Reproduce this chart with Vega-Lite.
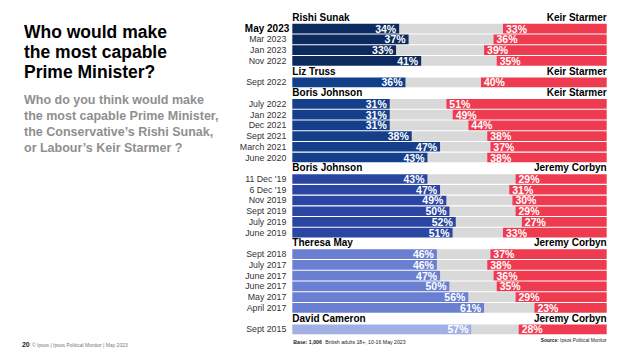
{
  "$schema": "https://vega.github.io/schema/vega-lite/v6.json",
  "width": 640,
  "height": 360,
  "autosize": "none",
  "padding": 0,
  "background": "white",
  "config": {"view": {"stroke": null}, "font": "Liberation Sans"},
  "title": {
    "text": ["Who would make", "the most capable", "Prime Minister?"],
    "subtitle": ["Who do you think would make", "the most capable Prime Minister,", "the Conservative’s Rishi Sunak,", "or Labour’s Keir Starmer ?"],
    "anchor": "start",
    "frame": "group",
    "orient": "top",
    "dx": 24,
    "dy": 154,
    "offset": 0,
    "font": "Liberation Sans",
    "fontSize": 17.5,
    "fontWeight": "bold",
    "color": "#000000",
    "lineHeight": 20,
    "subtitleFont": "Liberation Sans",
    "subtitleFontSize": 12.5,
    "subtitleFontWeight": "bold",
    "subtitleColor": "#8f8f8f",
    "subtitleLineHeight": 16,
    "subtitlePadding": 12
  },
  "datasets": {
    "rows": [
      {"row": 2, "label": "May 2023", "group": "Sunak v Starmer", "con": 34, "dk": 33, "lab": 33},
      {"row": 3, "label": "Mar 2023", "group": "Sunak v Starmer", "con": 37, "dk": 27, "lab": 36},
      {"row": 4, "label": "Jan 2023", "group": "Sunak v Starmer", "con": 33, "dk": 28, "lab": 39},
      {"row": 5, "label": "Nov 2022", "group": "Sunak v Starmer", "con": 41, "dk": 24, "lab": 35},
      {"row": 7, "label": "Sept 2022", "group": "Truss v Starmer", "con": 36, "dk": 24, "lab": 40},
      {"row": 9, "label": "July 2022", "group": "Johnson v Starmer", "con": 31, "dk": 18, "lab": 51},
      {"row": 10, "label": "Jan 2022", "group": "Johnson v Starmer", "con": 31, "dk": 20, "lab": 49},
      {"row": 11, "label": "Dec 2021", "group": "Johnson v Starmer", "con": 31, "dk": 25, "lab": 44},
      {"row": 12, "label": "Sept 2021", "group": "Johnson v Starmer", "con": 38, "dk": 24, "lab": 38},
      {"row": 13, "label": "March 2021", "group": "Johnson v Starmer", "con": 47, "dk": 16, "lab": 37},
      {"row": 14, "label": "June 2020", "group": "Johnson v Starmer", "con": 43, "dk": 19, "lab": 38},
      {"row": 16, "label": "11 Dec '19", "group": "Johnson v Corbyn", "con": 43, "dk": 28, "lab": 29},
      {"row": 17, "label": "6 Dec '19", "group": "Johnson v Corbyn", "con": 47, "dk": 22, "lab": 31},
      {"row": 18, "label": "Nov 2019", "group": "Johnson v Corbyn", "con": 49, "dk": 21, "lab": 30},
      {"row": 19, "label": "Sept 2019", "group": "Johnson v Corbyn", "con": 50, "dk": 21, "lab": 29},
      {"row": 20, "label": "July 2019", "group": "Johnson v Corbyn", "con": 52, "dk": 21, "lab": 27},
      {"row": 21, "label": "June 2019", "group": "Johnson v Corbyn", "con": 51, "dk": 16, "lab": 33},
      {"row": 23, "label": "Sept 2018", "group": "May v Corbyn", "con": 46, "dk": 17, "lab": 37},
      {"row": 24, "label": "July 2017", "group": "May v Corbyn", "con": 46, "dk": 16, "lab": 38},
      {"row": 25, "label": "June 2017", "group": "May v Corbyn", "con": 47, "dk": 17, "lab": 36},
      {"row": 26, "label": "June 2017", "group": "May v Corbyn", "con": 50, "dk": 15, "lab": 35},
      {"row": 27, "label": "May 2017", "group": "May v Corbyn", "con": 56, "dk": 15, "lab": 29},
      {"row": 28, "label": "April 2017", "group": "May v Corbyn", "con": 61, "dk": 16, "lab": 23},
      {"row": 30, "label": "Sept 2015", "group": "Cameron v Corbyn", "con": 57, "dk": 15, "lab": 28}
    ],
    "headers": [
      {"row": 1, "con_leader": "Rishi Sunak", "lab_leader": "Keir Starmer"},
      {"row": 6, "con_leader": "Liz Truss", "lab_leader": "Keir Starmer"},
      {"row": 8, "con_leader": "Boris Johnson", "lab_leader": "Keir Starmer"},
      {"row": 15, "con_leader": "Boris Johnson", "lab_leader": "Jeremy Corbyn"},
      {"row": 22, "con_leader": "Theresa May", "lab_leader": "Jeremy Corbyn"},
      {"row": 29, "con_leader": "David Cameron", "lab_leader": "Jeremy Corbyn"}
    ]
  },
  "encoding": {
    "y": {
      "field": "row",
      "type": "ordinal",
      "scale": {
        "domain": [1, 2, 3, 4, 5, 6, 7, 8, 9, 10, 11, 12, 13, 14, 15, 16, 17, 18, 19, 20, 21, 22, 23, 24, 25, 26, 27, 28, 29, 30, 31],
        "range": [13.1, 344.9],
        "paddingInner": 0.1,
        "paddingOuter": 0
      },
      "axis": null
    }
  },
  "layer": [
    {
      "data": {"name": "rows"},
      "transform": [
        {"fold": ["con", "dk", "lab"], "as": ["k", "v"]},
        {"stack": "v", "groupby": ["row"], "sort": [{"field": "k", "order": "ascending"}], "as": ["v0", "v1"]},
        {"calculate": "datum.v + '%'", "as": "pct"}
      ],
      "layer": [
        {
          "transform": [{"filter": "datum.k == 'dk'"}],
          "mark": {"type": "bar", "color": "#d9d9d9"},
          "encoding": {
            "x": {"field": "v0", "type": "quantitative", "scale": {"domain": [0, 100], "range": [292.3, 606.7], "nice": false, "zero": false}, "axis": null},
            "x2": {"field": "v1"}
          }
        },
        {
          "transform": [{"filter": "datum.k == 'lab'"}],
          "mark": {"type": "bar", "color": "#ef3b4f"},
          "encoding": {
            "x": {"field": "v0", "type": "quantitative", "axis": null},
            "x2": {"field": "v1"}
          }
        },
        {
          "transform": [{"filter": "datum.k == 'con'"}],
          "mark": {"type": "bar"},
          "encoding": {
            "x": {"field": "v0", "type": "quantitative", "axis": null},
            "x2": {"field": "v1"},
            "color": {
              "field": "group",
              "type": "nominal",
              "scale": {
                "domain": ["Sunak v Starmer", "Truss v Starmer", "Johnson v Starmer", "Johnson v Corbyn", "May v Corbyn", "Cameron v Corbyn"],
                "range": ["#0c2a5e", "#123f8a", "#153f8b", "#2a45a2", "#6a7fd2", "#a0b0e4"]
              },
              "legend": null
            }
          }
        },
        {
          "transform": [{"filter": "datum.k == 'con'"}],
          "mark": {"type": "text", "align": "right", "baseline": "middle", "dx": -3, "dy": 1, "color": "white", "font": "Liberation Sans", "fontWeight": "bold", "fontSize": 10.5},
          "encoding": {
            "x": {"field": "v1", "type": "quantitative", "axis": null},
            "text": {"field": "pct"}
          }
        },
        {
          "transform": [{"filter": "datum.k == 'lab'"}],
          "mark": {"type": "text", "align": "left", "baseline": "middle", "dx": 3, "dy": 1, "color": "white", "font": "Liberation Sans", "fontWeight": "bold", "fontSize": 10.5},
          "encoding": {
            "x": {"field": "v0", "type": "quantitative", "axis": null},
            "text": {"field": "pct"}
          }
        }
      ]
    },
    {
      "data": {"name": "rows"},
      "transform": [{"filter": "datum.row != 2"}],
      "mark": {"type": "text", "align": "right", "baseline": "middle", "dx": -6, "color": "#333333", "font": "Liberation Sans", "fontSize": 8.8},
      "encoding": {
        "x": {"datum": 0, "type": "quantitative", "axis": null},
        "text": {"field": "label"}
      }
    },
    {
      "data": {"name": "rows"},
      "transform": [{"filter": "datum.row == 2"}],
      "mark": {"type": "text", "align": "right", "baseline": "middle", "dx": -3, "color": "#000000", "font": "Liberation Sans", "fontWeight": "bold", "fontSize": 10},
      "encoding": {
        "x": {"datum": 0, "type": "quantitative", "axis": null},
        "text": {"field": "label"}
      }
    },
    {
      "data": {"name": "headers"},
      "mark": {"type": "text", "align": "left", "baseline": "middle", "color": "#000000", "font": "Liberation Sans", "fontWeight": "bold", "fontSize": 10},
      "encoding": {
        "x": {"datum": 0, "type": "quantitative", "axis": null},
        "text": {"field": "con_leader"}
      }
    },
    {
      "data": {"name": "headers"},
      "mark": {"type": "text", "align": "right", "baseline": "middle", "color": "#000000", "font": "Liberation Sans", "fontWeight": "bold", "fontSize": 10},
      "encoding": {
        "x": {"datum": 100, "type": "quantitative", "axis": null},
        "text": {"field": "lab_leader"}
      }
    },
    {
      "data": {"values": [{"row": 31}]},
      "layer": [
        {
          "mark": {"type": "text", "text": "Base: 1,006", "align": "left", "baseline": "middle", "dy": 2, "dx": 1, "fontWeight": "bold", "fontSize": 5.2, "color": "#222222"},
          "encoding": {"x": {"datum": 0, "type": "quantitative", "axis": null}}
        },
        {
          "mark": {"type": "text", "text": "British adults 18+, 10-16 May 2023", "align": "left", "baseline": "middle", "dy": 2, "dx": 33, "fontSize": 5.2, "color": "#222222"},
          "encoding": {"x": {"datum": 0, "type": "quantitative", "axis": null}}
        },
        {
          "mark": {"type": "text", "text": "Ipsos  Political Monitor", "align": "right", "baseline": "middle", "dy": 1, "fontSize": 4.8, "color": "#222222"},
          "encoding": {"x": {"datum": 100, "type": "quantitative", "axis": null}}
        },
        {
          "mark": {"type": "text", "text": "Source:", "align": "right", "baseline": "middle", "dy": 1, "dx": -48, "fontWeight": "bold", "fontSize": 4.8, "color": "#222222"},
          "encoding": {"x": {"datum": 100, "type": "quantitative", "axis": null}}
        },
        {
          "mark": {"type": "text", "text": "20", "align": "left", "baseline": "middle", "dy": 5, "fontWeight": "bold", "fontSize": 7, "color": "#222222"},
          "encoding": {"x": {"datum": -86, "type": "quantitative", "axis": null}}
        },
        {
          "mark": {"type": "text", "text": "© Ipsos | Ipsos Political Monitor | May 2023", "align": "left", "baseline": "middle", "dy": 5, "fontSize": 5, "color": "#777777"},
          "encoding": {"x": {"datum": -82.8, "type": "quantitative", "axis": null}}
        }
      ]
    }
  ]
}
